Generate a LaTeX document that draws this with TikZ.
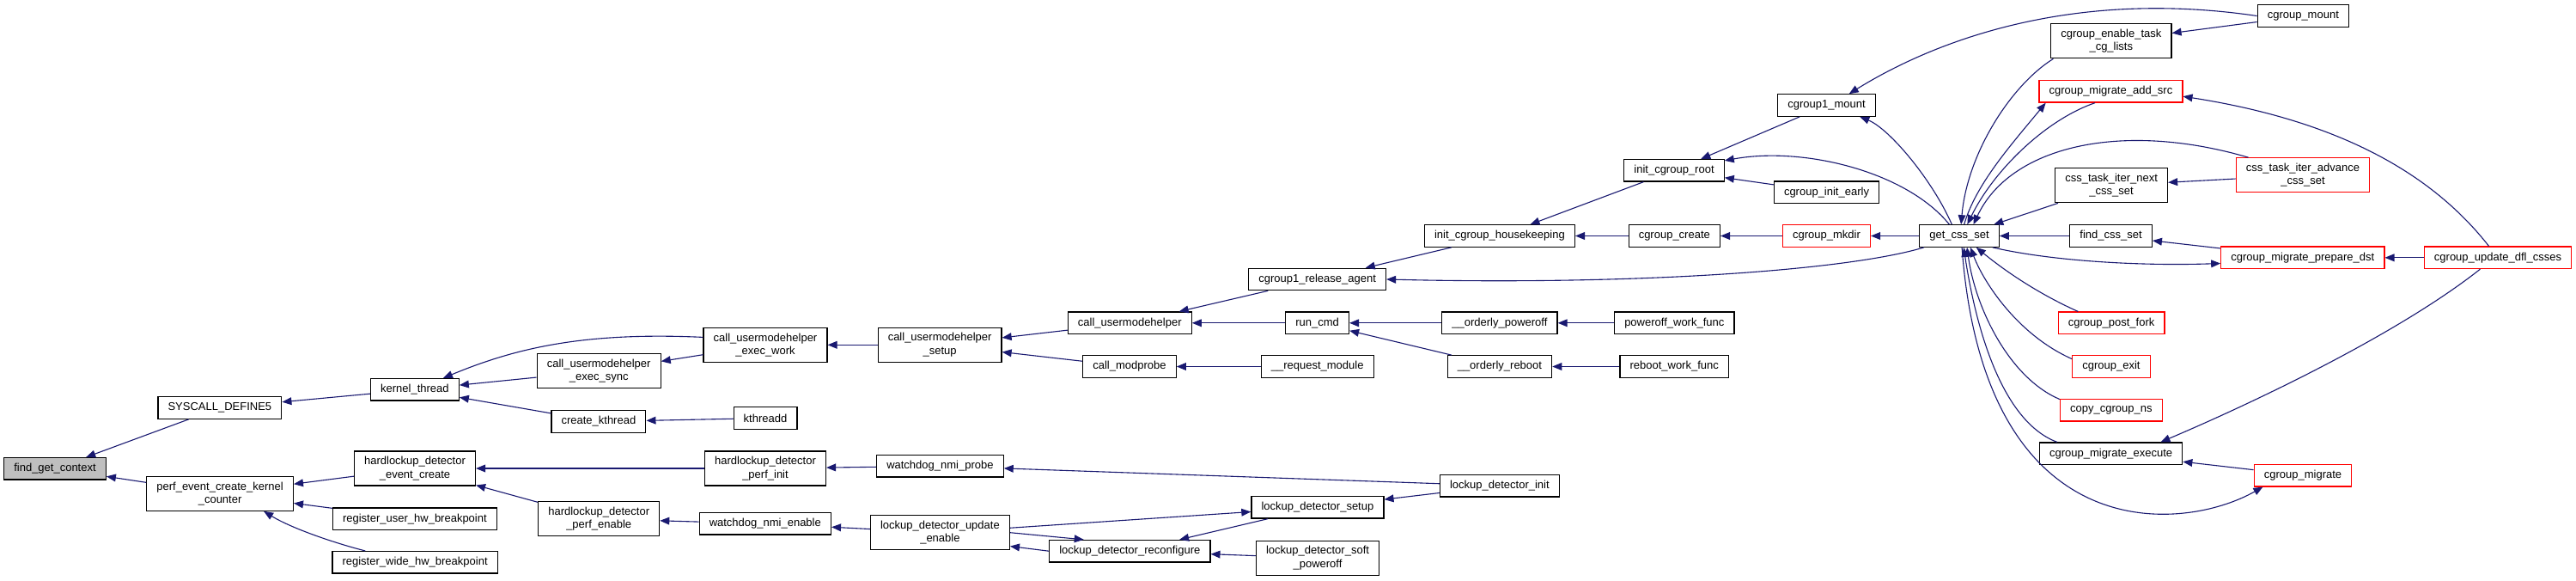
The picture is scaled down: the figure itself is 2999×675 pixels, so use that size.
\documentclass[tikz,border=0pt]{standalone}
\usepackage{fontspec}
\setmainfont{Liberation Sans}
\definecolor{edgeblue}{HTML}{191970}
\definecolor{curgrey}{HTML}{BFBFBF}
\definecolor{extred}{HTML}{FF0000}
\usetikzlibrary{arrows.meta}
\begin{document}
\begin{tikzpicture}[
      x=0.5pt,y=-0.5pt,
      fn/.style={draw=black,line width=0.6pt,fill=white,
                 font=\fontsize{6.5}{7.7}\selectfont,
                 inner xsep=5.8pt,inner ysep=1pt,minimum height=12.75pt},
      two/.style={minimum height=20pt,align=center},
      ext/.style={draw=extred},
      cur/.style={fill=curgrey},
      edge/.style={draw=edgeblue,line width=0.55pt,
                   {Triangle[length=5.5pt,width=4.4pt]}-}]
    \useasboundingbox (0,0) rectangle (2999,675);
    % column 0-2
    \node[fn,cur] (fgc) at (64,545.3) {find\_get\_context};
    \node[fn] (sysdef) at (255.9,474.5) {SYSCALL\_DEFINE5};
    \node[fn,two] (pecc) at (256.1,574.3) {perf\_event\_create\_kernel\\\_counter};
    \node[fn] (kthr) at (482.9,453.3) {kernel\_thread};
    \node[fn,two] (hdec) at (483,545) {hardlockup\_detector\\\_event\_create};
    \node[fn] (ruhb) at (482.9,603.8) {register\_user\_hw\_breakpoint};
    \node[fn] (rwhb) at (483.1,654.3) {register\_wide\_hw\_breakpoint};
    % column 3-5
    \node[fn,two] (cuesync) at (697.2,431.8) {call\_usermodehelper\\\_exec\_sync};
    \node[fn] (ckth) at (696.9,490.5) {create\_kthread};
    \node[fn,two] (hdpen) at (697.2,603.8) {hardlockup\_detector\\\_perf\_enable};
    \node[fn,two] (cuework) at (891,401.3) {call\_usermodehelper\\\_exec\_work};
    \node[fn] (kthreadd) at (891,486.5) {kthreadd};
    \node[fn,two] (hdpinit) at (891,545) {hardlockup\_detector\\\_perf\_init};
    \node[fn] (wnmien) at (890.8,609.3) {watchdog\_nmi\_enable};
    \node[fn,two] (cusetup) at (1094.1,401.3) {call\_usermodehelper\\\_setup};
    \node[fn] (wnmiprobe) at (1094.4,542.3) {watchdog\_nmi\_probe};
    \node[fn,two] (ldue) at (1094.4,619.7) {lockup\_detector\_update\\\_enable};
    % column 6-8
    \node[fn] (cuh) at (1315.3,375.8) {call\_usermodehelper};
    \node[fn] (cmodprobe) at (1315,426.5) {call\_modprobe};
    \node[fn] (ldreconf) at (1315.3,641.2) {lockup\_detector\_reconfigure};
    \node[fn] (c1ra) at (1533.6,325) {cgroup1\_release\_agent};
    \node[fn] (runcmd) at (1533.6,375.8) {run\_cmd};
    \node[fn] (reqmod) at (1533.7,426.5) {\_\_request\_module};
    \node[fn] (ldsetup) at (1533.9,590.3) {lockup\_detector\_setup};
    \node[fn,two] (ldsoft) at (1534,649.3) {lockup\_detector\_soft\\\_poweroff};
    \node[fn] (ichk) at (1745.9,274.5) {init\_cgroup\_housekeeping};
    \node[fn] (opoff) at (1745.9,375.8) {\_\_orderly\_poweroff};
    \node[fn] (oreboot) at (1745.9,426.5) {\_\_orderly\_reboot};
    \node[fn] (ldinit) at (1745.9,565.2) {lockup\_detector\_init};
    % column 9-11
    \node[fn] (icroot) at (1949,198.3) {init\_cgroup\_root};
    \node[fn] (ccreate) at (1949.3,274.5) {cgroup\_create};
    \node[fn] (powf) at (1949.3,375.8) {poweroff\_work\_func};
    \node[fn] (rebwf) at (1949.2,426.5) {reboot\_work\_func};
    \node[fn] (c1mount) at (2126.5,122.5) {cgroup1\_mount};
    \node[fn] (cinit) at (2126.5,223.7) {cgroup\_init\_early};
    \node[fn,ext] (cmkdir) at (2126.5,274.5) {cgroup\_mkdir};
    \node[fn] (gcss) at (2281,274.5) {get\_css\_set};
    % column 12-14
    \node[fn,two] (cetcl) at (2457.8,47.8) {cgroup\_enable\_task\\\_cg\_lists};
    \node[fn,ext] (cmas) at (2457.4,106.3) {cgroup\_migrate\_add\_src};
    \node[fn,two] (ctinext) at (2458.1,215.8) {css\_task\_iter\_next\\\_css\_set};
    \node[fn] (fcss) at (2457.6,274.5) {find\_css\_set};
    \node[fn,ext] (cpf) at (2458.1,375.8) {cgroup\_post\_fork};
    \node[fn,ext] (cexit) at (2457.9,426.5) {cgroup\_exit};
    \node[fn,ext] (ccns) at (2457.8,477.3) {copy\_cgroup\_ns};
    \node[fn] (cme) at (2457.6,527.7) {cgroup\_migrate\_execute};
    \node[fn] (cmount) at (2681.3,18.5) {cgroup\_mount};
    \node[fn,two,ext] (ctiadv) at (2681,203.8) {css\_task\_iter\_advance\\\_css\_set};
    \node[fn,ext] (cmpd) at (2680.8,299.8) {cgroup\_migrate\_prepare\_dst};
    \node[fn,ext] (cmig) at (2681,553.2) {cgroup\_migrate};
    \node[fn,ext] (cudfl) at (2908,299.8) {cgroup\_update\_dfl\_csses};
    % callers
    \draw[edge] (fgc) -- (sysdef);
    \draw[edge] (fgc) -- (pecc);
    \draw[edge] (sysdef) -- (kthr);
    \draw[edge] (kthr.22) .. controls (600,405) and (680,386) .. (cuework.173);
    \draw[edge] (kthr) -- (cuesync);
    \draw[edge] (kthr) -- (ckth);
    \draw[edge] (cuesync) -- (cuework);
    \draw[edge] (ckth) -- (kthreadd);
    \draw[edge] (cuework) -- (cusetup);
    \draw[edge] (cusetup) -- (cuh);
    \draw[edge] (cusetup) -- (cmodprobe);
    \draw[edge] (cmodprobe) -- (reqmod);
    \draw[edge] (cuh) -- (c1ra);
    \draw[edge] (cuh) -- (runcmd);
    \draw[edge] (runcmd) -- (opoff);
    \draw[edge] (runcmd) -- (oreboot);
    \draw[edge] (opoff) -- (powf);
    \draw[edge] (oreboot) -- (rebwf);
    \draw[edge] (c1ra) -- (ichk);
    \draw[edge] (c1ra.east) .. controls (1900,332) and (2150,315) .. (gcss.198);
    \draw[edge] (ichk) -- (icroot);
    \draw[edge] (ichk) -- (ccreate);
    \draw[edge] (ccreate) -- (cmkdir);
    \draw[edge] (cmkdir) -- (gcss);
    \draw[edge] (icroot) -- (c1mount);
    \draw[edge] (icroot) -- (cinit);
    \draw[edge] (icroot.11) .. controls (2100,170) and (2220,200) .. (gcss.131);
    \draw[edge] (c1mount.27) .. controls (2240,55) and (2400,-15) .. (cmount.west);
    \draw[edge] (c1mount.-19) .. controls (2200,150) and (2250,210) .. (gcss.123);
    \draw[edge] (cetcl) -- (cmount);
    \draw[edge] (gcss.81) .. controls (2290,180) and (2340,100) .. (cetcl.197);
    \draw[edge] (cmas.190) .. controls (2340,170) and (2300,215) .. (gcss.67);
    \draw[edge] (gcss.55) .. controls (2320,200) and (2380,140) .. (cmas.216);
    \draw[edge] (gcss.39) .. controls (2340,170) and (2470,140) .. (ctiadv.162);
    \draw[edge] (ctinext) -- (ctiadv);
    \draw[edge] (gcss) -- (ctinext);
    \draw[edge] (gcss) -- (fcss);
    \draw[edge] (fcss) -- (cmpd);
    \draw[edge] (cmpd.184) .. controls (2480,310) and (2380,302) .. (gcss.-19);
    \draw[edge] (cmpd) -- (cudfl);
    \draw[edge] (cmas.-4) .. controls (2720,140) and (2830,200) .. (cudfl.128);
    \draw[edge] (cme.13) .. controls (2620,470) and (2790,390) .. (cudfl.213);
    \draw[edge] (gcss.-34) .. controls (2340,320) and (2380,345) .. (cpf.161);
    \draw[edge] (gcss.-46) .. controls (2310,330) and (2350,390) .. (cexit.169);
    \draw[edge] (gcss.-56) .. controls (2300,360) and (2340,440) .. (ccns.168);
    \draw[edge] (gcss.-69) .. controls (2300,380) and (2330,490) .. (cme.168);
    \draw[edge] (cme) -- (cmig);
    \draw[edge] (cmig.196) .. controls (2540,620) and (2310,640) .. (gcss.-77);
    \draw[edge] (pecc) -- (hdec);
    \draw[edge] (pecc) -- (ruhb);
    \draw[edge] (pecc.-22) .. controls (340,615) and (390,632) .. (rwhb.167);
    \draw[edge] (hdec) -- (hdpinit);
    \draw[edge] (hdec) -- (hdpen);
    \draw[edge] (hdpinit) -- (wnmiprobe);
    \draw[edge] (wnmiprobe) -- (ldinit);
    \draw[edge] (hdpen) -- (wnmien);
    \draw[edge] (wnmien) -- (ldue);
    \draw[edge] (ldsetup) -- (ldue);
    \draw[edge] (ldreconf.166) -- (ldue.east);
    \draw[edge] (ldue.-11) -- (ldreconf.west);
    \draw[edge] (ldreconf.13) -- (ldsetup.193);
    \draw[edge] (ldreconf) -- (ldsoft);
    \draw[edge] (ldsetup) -- (ldinit);
  \end{tikzpicture}
\end{document}
